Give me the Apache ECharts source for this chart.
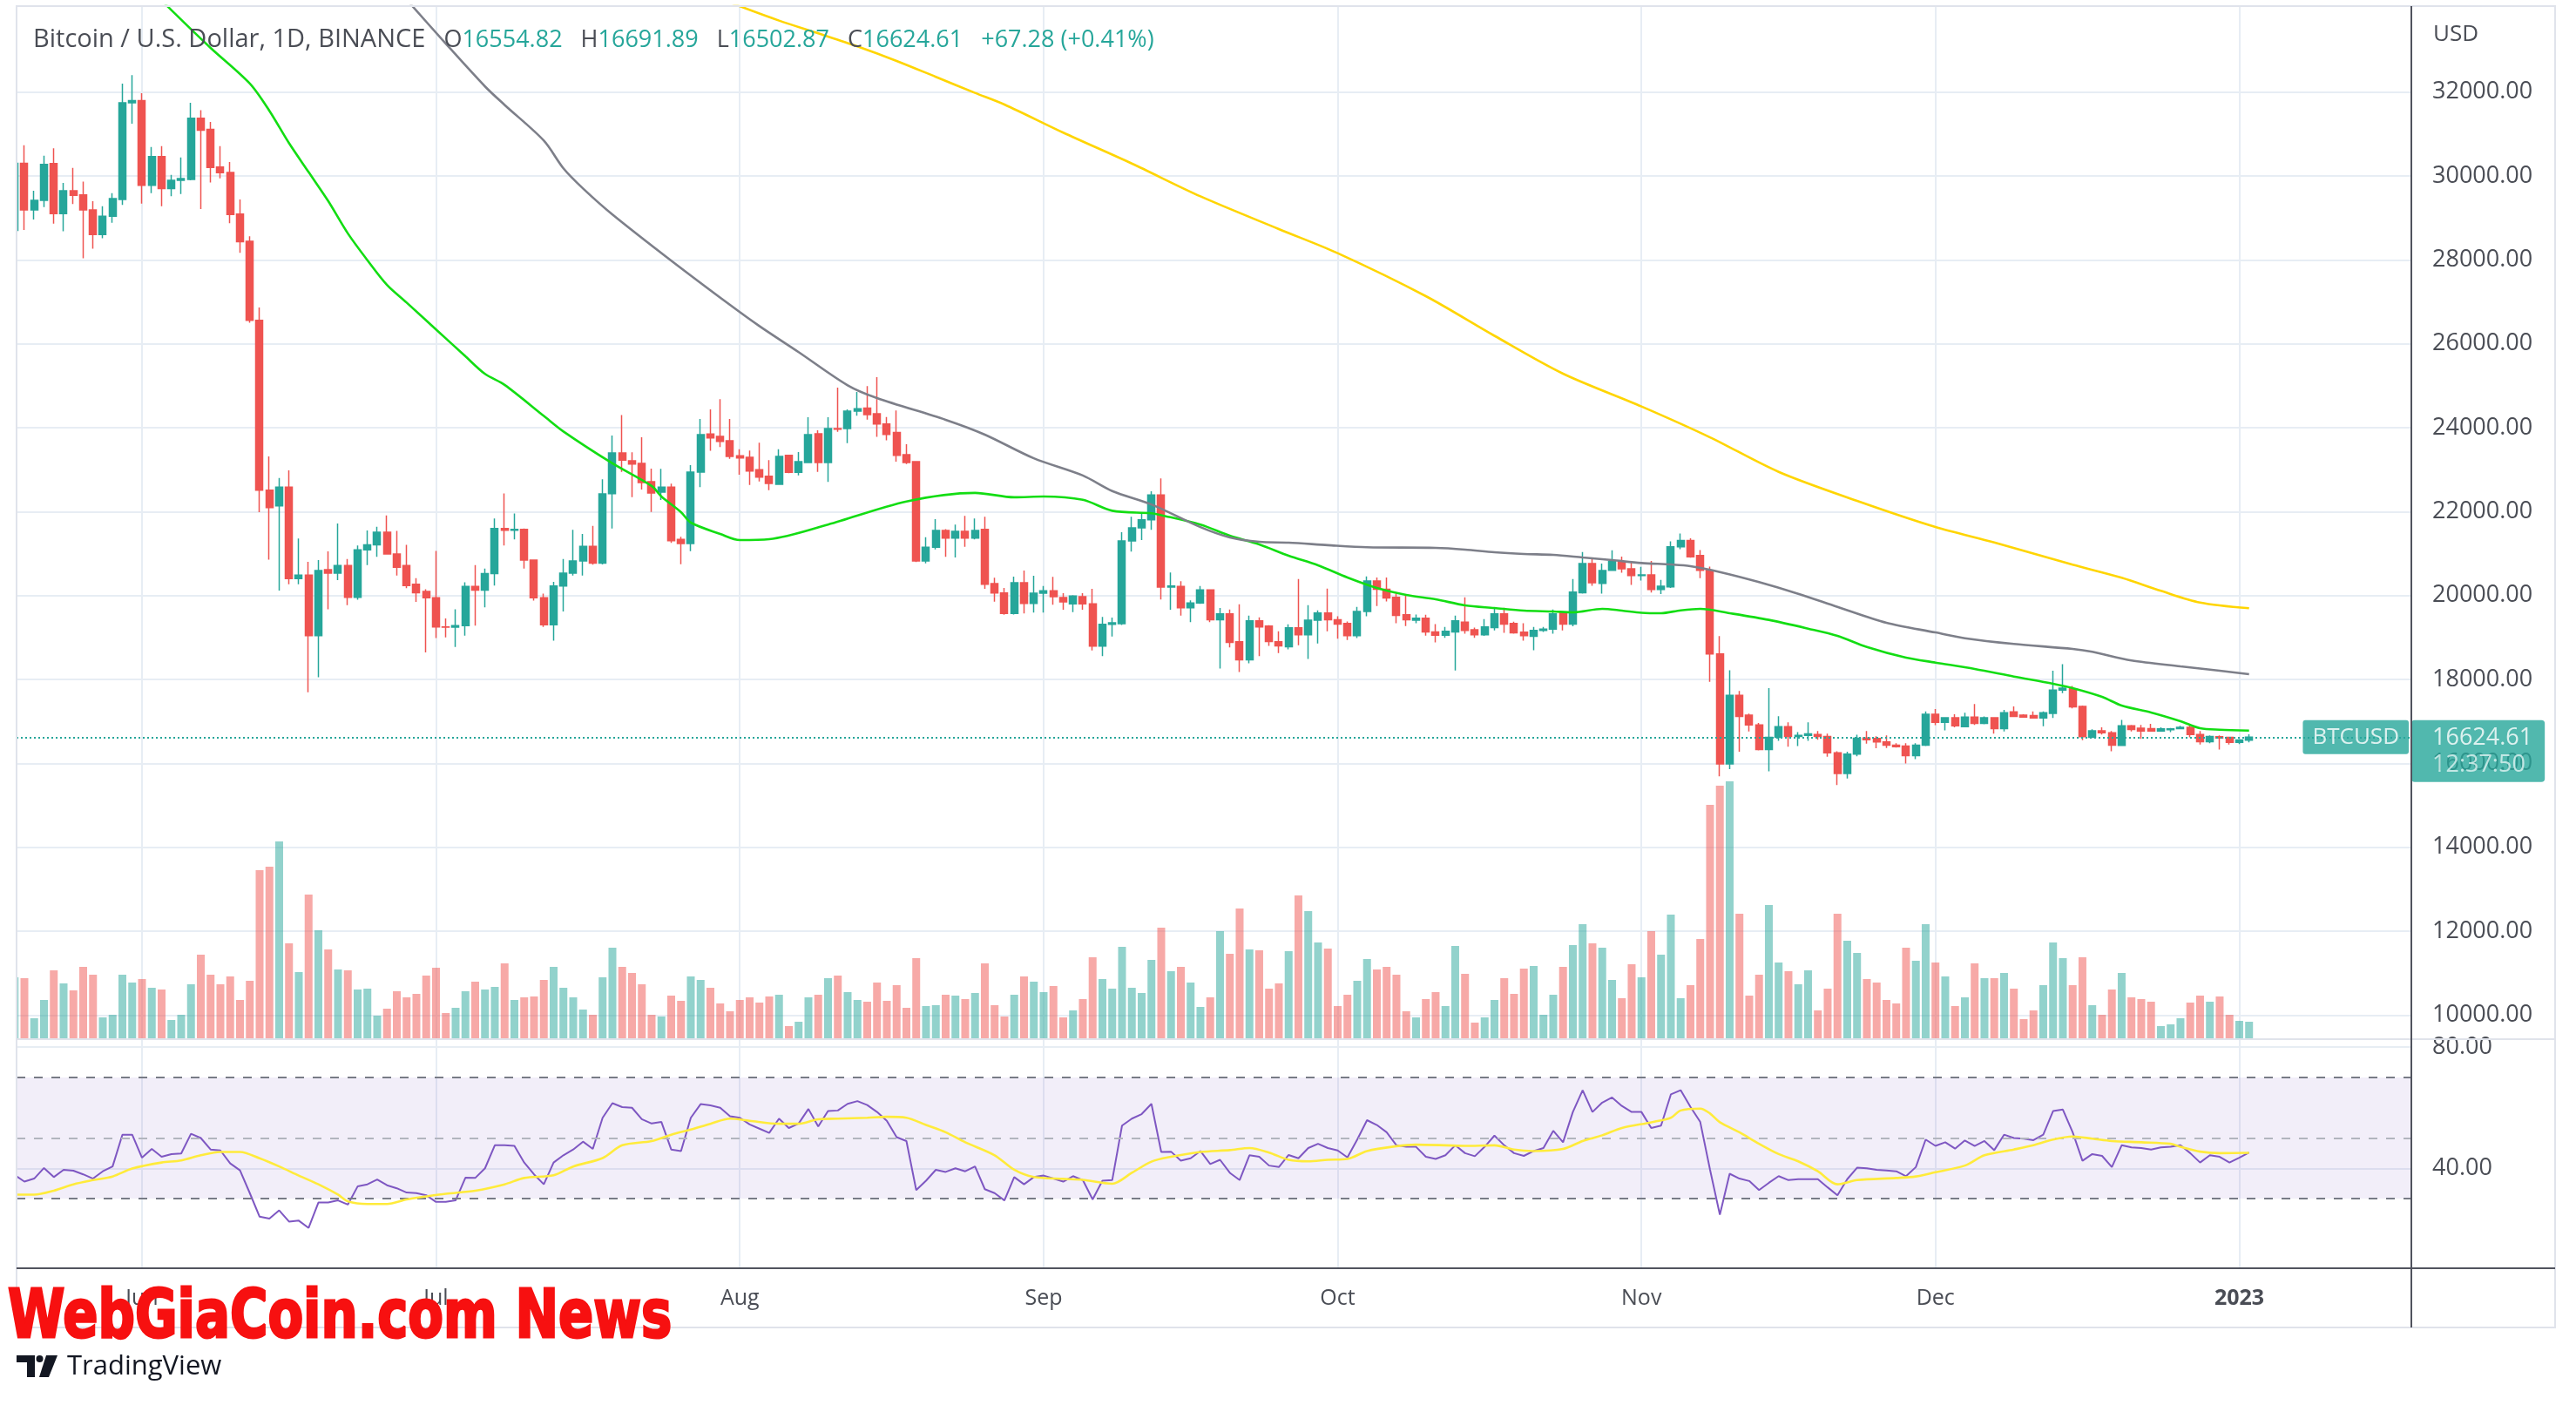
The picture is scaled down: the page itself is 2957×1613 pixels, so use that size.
<!DOCTYPE html>
<html>
<head>
<meta charset="utf-8">
<title>BTCUSD 1D</title>
<script src="https://cdn.jsdelivr.net/npm/echarts@6/dist/echarts.min.js"></script>
<style>
html,body{margin:0;padding:0;background:#fff;overflow:hidden}
#chart{width:2957px;height:1613px}
</style>
</head>
<body>
<div id="chart"></div>
<script>
// ================= DATA =================
const START_DATE = '2022-05-19';   // first daily candle; one candle per day

const OPEN = [
28700,30300,29188,29417,30291,29099,29645,29546,29188,28602,29039,29437,31742,
31791,29775,30460,29695,29894,29914,31374,31106,30212,30083,29089,28443,26556,22512,22135,22582,20406,20485,19045,20614,20535,20714,19959,21091,21210,21508,20992,20714,20267,20098,
19949,19254,19244,19284,20217,20128,20525,21598,21558,21578,20843,19949,19303,20227,20535,20823,21171,20773,22429,23398,23211,23149,22713,22464,22581,21336,21239,22941,23848,23793,23689,
23329,23294,22997,22844,22651,23343,22934,23170,23855,23170,23979,23979,24395,24464,24332,24090,23883,23357,23190,20824,21149,21550,21371,21530,21371,21578,20284,20063,19571,20305,19813,
20056,20111,19952,19800,19973,19800,18796,19315,19330,21301,21613,21806,22394,20201,20215,19710,19820,20132,19424,19562,18898,18468,19396,19272,18898,18780,19230,19064,19410,19583,
19424,19334,19043,19618,20345,20151,19957,19542,19410,19459,19133,19057,19133,19368,19182,19064,19237,19562,19334,19126,19029,19168,19202,19583,19320,20068,20760,20290,20601,20809,20636,
20477,20490,20145,20207,21159,21310,20952,20600,18607,15986,17621,17152,16917,16331,16621,16876,16641,16669,16690,16641,16255,15759,16221,16607,16593,16510,16434,16414,16186,16434,
17172,16979,17090,16876,17103,16952,17090,16828,17228,17152,17138,17083,17193,17745,17779,17359,16621,16779,16731,16428,16897,16841,16828,16772,16800,16828,16862,16690,16517,16634,16621,16503,16554.82
];
const HIGH = [
30550,30728,29645,30480,30659,29834,30192,29864,29397,29278,29586,32200,32400,
31970,30689,30709,30023,30440,31742,31563,31285,30709,30331,29437,28562,26864,23317,22800,22980,21360,20803,20843,21051,21717,20873,21190,21548,21637,21906,21538,21210,20416,20147,
21061,19454,19671,20316,20724,20644,21836,22433,21955,21598,20860,20048,20326,20873,21568,21469,21657,22771,23813,24298,23412,23772,23024,23018,22664,21400,23107,24208,24436,24678,24208,
23488,23453,23640,23225,23488,23357,23419,24249,23938,24249,24955,24436,24851,24990,25204,24256,24408,23606,23204,21391,21820,21580,21689,21896,21834,21876,20422,20180,20450,20596,20471,
20229,20443,20056,20007,20056,20159,19488,19474,21509,21876,21945,22485,22789,20547,20339,19883,20229,20146,19701,19666,19791,19521,19479,19292,19147,19313,20393,19770,19646,20165,
19507,19380,19729,20456,20428,20428,20047,20033,19549,19542,19320,19251,19521,19957,19237,19438,19687,19708,19375,19341,19251,19251,19666,19611,20393,21037,20878,20760,21079,20927,20823,
20684,20823,20372,21290,21476,21366,21083,20690,19034,18221,17724,17186,16966,17793,17124,16979,16745,16979,16772,16710,16290,16276,16683,16772,16648,16669,16483,16483,16483,17241,
17297,17103,17172,17207,17414,17117,17103,17276,17359,17172,17241,17241,18207,18366,17848,17379,16814,16862,16772,17034,16917,16917,16945,16862,16842,16897,16931,16772,16669,16669,16634,16580,16691.89
];
const LOW = [
28650,28711,28960,29258,28861,28682,29327,28036,28264,28513,28880,29308,31245,
29337,29586,29278,29516,29566,29894,29208,29844,29943,28870,28165,26500,21985,20853,20118,20267,20267,17694,18051,19671,20366,19770,19899,20724,20923,20972,20475,20177,19850,18647,
18985,19005,18776,19045,19284,19721,20237,21190,21340,20644,19880,19254,18925,19621,20475,20475,20734,20743,21599,22948,22346,22526,21993,22277,21253,20748,21059,22582,23447,23537,23260,
22879,22637,22720,22512,22637,22914,22865,23170,22948,22706,23903,23633,24284,24194,23779,23696,23190,23135,20796,20769,21101,20921,20907,21163,21336,20159,19855,19540,19550,19571,19592,
19592,19779,19661,19606,19661,18692,18554,19025,19300,21045,21322,21564,19904,19661,19523,19364,19800,19364,18260,18766,18177,18385,18558,18801,18627,18718,18815,18489,18856,19147,
18974,18939,18988,19507,19749,19860,19341,19271,19341,19043,18884,18994,18212,19092,18994,19040,19168,19112,19092,18925,18697,19133,19092,19168,19265,20047,20234,20047,20587,20546,20255,
20359,20069,20034,20179,21103,20900,20414,17945,15690,15862,16276,16759,16310,15814,16538,16400,16414,16538,16565,16159,15483,15641,16172,16469,16359,16366,16379,16000,16103,16414,
16910,16786,16862,16860,16917,16931,16710,16759,17103,17090,17069,16883,17083,17676,17310,16552,16607,16690,16290,16414,16759,16586,16759,16759,16745,16814,16621,16448,16483,16331,16448,16462,16502.87
];
const CLOSE = [
30300,29188,29417,30271,29099,29645,29536,29188,28602,29039,29457,31742,31791,
29775,30460,29695,29894,29934,31374,31086,30202,30073,29079,28433,26556,22512,22095,22582,20406,20485,19045,20594,20535,20714,19959,21091,21210,21508,20992,20674,20237,20068,19949,
19254,19244,19284,20217,20128,20525,21598,21558,21578,20843,19949,19303,20227,20535,20823,21171,20773,22423,23398,23225,23135,22692,22443,22581,21308,21239,22941,23834,23758,23675,23315,
23280,22969,22824,22671,23315,22934,23190,23834,23170,23979,23965,24395,24450,24312,24090,23841,23343,23170,20824,21149,21550,21371,21530,21371,21550,20270,20063,19571,20305,19813,20056,
20111,19973,19848,19987,19800,18796,19315,19350,21301,21613,21806,22394,20201,20229,19710,19820,20132,19424,19562,18884,18468,19396,19251,18905,18801,19230,19064,19410,19583,19424,
19320,19043,19618,20345,20151,19943,19528,19424,19459,19133,19057,19147,19396,19168,19064,19251,19562,19320,19112,19043,19168,19202,19562,19320,20082,20760,20303,20594,20809,20636,20477,
20490,20145,20221,21159,21310,20924,20600,18607,15986,17621,17117,16917,16331,16621,16876,16641,16669,16703,16641,16255,15759,16221,16600,16566,16510,16434,16400,16186,16434,17172,
16979,17090,16897,17103,16952,17090,16828,17207,17117,17103,17083,17207,17745,17793,17345,16634,16779,16731,16434,16897,16807,16772,16772,16821,16821,16862,16690,16517,16641,16607,16503,16557.33,16624.61
];
// daily volume, thousands of BTC
const VOLUME_K = [
70,69,23,44,78,63,55,82,73,24,27,73,64,68,58,56,21,27,62,96,73,62,71,44,66,193,197,226,109,76,
165,124,102,79,78,56,57,26,34,54,47,51,72,81,29,35,54,65,56,59,86,44,47,48,67,82,58,47,33,27,
70,104,82,75,62,27,25,49,43,71,67,58,40,31,44,47,41,48,50,14,19,47,50,69,72,53,44,42,64,43,
61,35,92,37,38,50,49,45,52,86,38,25,50,71,65,53,60,24,32,45,93,68,57,105,58,
52,90,127,77,82,64,36,47,123,97,149,102,101,57,63,100,164,146,110,103,37,50,66,91,79,82,73,31,24,45,
53,37,106,74,18,24,44,69,51,80,83,27,50,82,107,131,109,104,67,46,85,70,123,96,142,46,61,114,268,290,
295,143,49,73,153,87,77,62,78,32,57,143,112,98,68,64,44,40,104,89,131,87,71,37,47,86,69,69,75,57,
22,32,61,110,92,61,93,38,27,56,75,47,45,42,14,16,23,41,49,42,48,27,20,19
];
// RSI(14), one value per candle
const RSI = [
37.8,35.6,36.6,40.1,37.1,39.5,39.2,38.0,36.6,39.0,40.6,51.1,51.1,43.5,46.4,43.8,44.7,44.9,51.4,50.0,
46.2,45.9,41.6,39.3,31.8,24.0,23.4,26.1,22.4,22.7,20.3,28.7,28.7,29.4,28.0,34.0,34.7,36.3,34.4,33.4,
32.0,31.8,31.1,28.9,28.9,29.4,36.9,36.8,40.0,47.6,47.6,47.4,41.9,38.0,34.7,41.9,44.3,46.2,48.8,46.4,
56.7,61.5,60.2,60.0,56.2,54.8,55.3,46.2,45.7,56.7,61.2,60.8,60.0,57.2,56.7,54.5,53.1,51.7,56.4,53.3,
54.8,59.6,53.8,58.9,59.1,61.3,62.2,60.9,58.6,55.7,50.3,49.0,32.8,35.9,39.5,38.8,40.0,39.0,40.6,33.1,
31.8,29.4,37.1,34.7,37.1,37.6,36.6,35.6,37.4,36.1,29.7,35.9,36.1,54.1,56.4,57.9,61.3,45.4,45.5,42.5,
43.3,45.7,41.4,42.8,38.5,36.1,44.3,43.8,40.9,40.4,44.4,43.3,46.7,48.1,46.7,45.9,43.6,49.5,55.9,54.3,
51.9,47.6,47.1,47.1,43.8,43.1,44.3,47.6,45.0,44.0,47.1,50.8,47.6,45.0,44.1,45.7,46.7,52.4,48.6,58.6,
65.8,58.6,61.7,63.4,60.6,58.6,58.6,53.3,54.1,64.4,65.8,60.3,55.3,39.5,24.7,38.2,36.6,35.8,32.8,35.2,
37.4,36.1,36.4,36.4,36.4,33.7,31.1,36.4,40.2,40.0,39.5,39.3,39.0,37.4,40.4,49.5,47.4,48.6,46.5,49.2,
47.4,49.0,46.0,51.1,50.0,49.8,49.3,51.1,58.9,59.4,51.9,42.5,44.7,44.1,40.4,47.6,46.9,46.7,46.2,46.9,
47.1,47.6,45.0,41.9,44.3,43.8,41.9,43.5,45.2
];
// RSI moving average (yellow), read at sample dates
const RSI_MA = [
['2022-05-19',31.3],['2022-05-21',31.3],['2022-05-23',32.6],['2022-05-25',34.7],['2022-05-27',36.1],['2022-05-29',37.3],['2022-05-31',39.9],
['2022-06-03',41.9],['2022-06-05',42.6],['2022-06-07',44.3],['2022-06-09',45.4],['2022-06-11',45.4],['2022-06-13',43.3],['2022-06-15',40.6],
['2022-06-17',37.6],['2022-06-19',34.7],['2022-06-21',31.3],['2022-06-22',29.1],['2022-06-24',28.2],['2022-06-26',28.2],['2022-06-28',29.7],
['2022-06-30',30.7],['2022-07-02',31.6],['2022-07-05',32.6],['2022-07-08',34.7],['2022-07-10',36.8],['2022-07-13',37.7],['2022-07-15',40.6],
['2022-07-18',43.4],['2022-07-20',47.6],['2022-07-23',49.0],['2022-07-25',51.1],['2022-07-27',52.8],['2022-07-29',54.7],['2022-07-31',56.4],
['2022-08-02',55.7],['2022-08-05',54.7],['2022-08-07',54.7],['2022-08-09',56.2],['2022-08-11',56.4],['2022-08-14',56.7],['2022-08-16',57.0],
['2022-08-18',56.7],['2022-08-20',54.3],['2022-08-22',51.9],['2022-08-24',48.6],['2022-08-27',44.3],['2022-08-29',39.5],['2022-08-31',37.1],
['2022-09-03',36.5],['2022-09-05',36.2],['2022-09-08',34.9],['2022-09-10',38.5],['2022-09-12',42.2],['2022-09-14',43.8],['2022-09-17',45.4],
['2022-09-20',46.0],['2022-09-22',46.7],['2022-09-24',45.2],['2022-09-26',42.8],['2022-09-28',42.3],['2022-09-30',42.8],['2022-10-02',43.1],
['2022-10-04',45.7],['2022-10-07',47.3],['2022-10-09',47.8],['2022-10-12',47.6],['2022-10-14',47.4],['2022-10-17',47.6],['2022-10-19',46.2],
['2022-10-21',45.7],['2022-10-24',46.4],['2022-10-26',49.0],['2022-10-28',50.9],['2022-10-30',53.3],['2022-11-02',55.2],['2022-11-04',56.7],
['2022-11-05',59.1],['2022-11-07',59.7],['2022-11-08',58.1],['2022-11-09',55.2],['2022-11-11',51.9],['2022-11-13',48.1],['2022-11-15',44.7],
['2022-11-17',42.3],['2022-11-19',39.0],['2022-11-21',34.7],['2022-11-23',36.1],['2022-11-27',36.8],['2022-11-29',37.3],['2022-12-01',38.7],
['2022-12-04',40.9],['2022-12-06',44.3],['2022-12-09',46.2],['2022-12-11',47.6],['2022-12-13',49.5],['2022-12-15',50.5],['2022-12-17',49.8],
['2022-12-19',49.0],['2022-12-22',48.6],['2022-12-25',48.1],['2022-12-26',47.1],['2022-12-28',45.5],['2022-12-30',45.0],['2023-01-02',45.1]
];
// price moving averages read at sample dates (green 50, gray 100, yellow 200)
const MA50 = [
['2022-06-01',34650],['2022-06-04',33950],['2022-06-08',33050],['2022-06-12',32200],['2022-06-14',31550],['2022-06-16',30780],['2022-06-18',30090],
['2022-06-20',29400],['2022-06-22',28630],['2022-06-24',27990],['2022-06-26',27400],['2022-06-28',26980],['2022-07-01',26340],['2022-07-04',25700],
['2022-07-06',25280],['2022-07-08',25020],['2022-07-12',24280],['2022-07-14',23910],['2022-07-19',23150],['2022-07-23',22610],['2022-07-24',22360],
['2022-07-26',21986],['2022-07-27',21737],['2022-07-30',21467],['2022-08-01',21322],['2022-08-04',21342],['2022-08-10',21690],['2022-08-18',22240],
['2022-08-25',22446],['2022-08-29',22341],['2022-09-01',22360],['2022-09-05',22280],['2022-09-08',22020],['2022-09-12',21960],['2022-09-13',21915],
['2022-09-17',21690],['2022-09-20',21425],['2022-09-23',21218],['2022-09-26',20948],['2022-09-29',20720],['2022-10-02',20430],['2022-10-05',20180],
['2022-10-08',20015],['2022-10-11',19911],['2022-10-14',19766],['2022-10-17',19703],['2022-10-20',19641],['2022-10-23',19620],['2022-10-25',19600],
['2022-10-28',19683],['2022-10-30',19641],['2022-11-01',19590],['2022-11-03',19579],['2022-11-05',19647],['2022-11-07',19683],['2022-11-10',19579],
['2022-11-14',19420],['2022-11-18',19212],['2022-11-21',19039],['2022-11-24',18775],['2022-11-28',18520],['2022-12-01',18402],['2022-12-05',18250],
['2022-12-09',18070],['2022-12-13',17897],['2022-12-15',17794],['2022-12-18',17586],['2022-12-20',17379],['2022-12-23',17213],['2022-12-26',17005],
['2022-12-28',16839],['2022-12-30',16804],['2023-01-02',16783]
];
const MA100 = [
['2022-06-28',34200],['2022-07-02',33150],['2022-07-06',32130],['2022-07-08',31690],['2022-07-12',30840],['2022-07-14',30180],['2022-07-16',29700],
['2022-07-19',29080],['2022-07-25',27980],['2022-07-31',26925],['2022-08-03',26420],['2022-08-07',25800],['2022-08-12',25010],['2022-08-15',24705],
['2022-08-22',24187],['2022-08-26',23834],['2022-08-31',23270],['2022-09-05',22860],['2022-09-08',22490],['2022-09-12',22170],['2022-09-17',21630],
['2022-09-20',21385],['2022-09-23',21280],['2022-09-26',21260],['2022-09-30',21200],['2022-10-04',21150],['2022-10-11',21135],['2022-10-14',21095],
['2022-10-17',21030],['2022-10-20',20990],['2022-10-23',20968],['2022-10-26',20906],['2022-10-29',20844],['2022-11-01',20775],['2022-11-04',20740],
['2022-11-06',20700],['2022-11-09',20560],['2022-11-13',20320],['2022-11-17',20042],['2022-11-21',19730],['2022-11-26',19350],['2022-12-01',19120],
['2022-12-04',18983],['2022-12-09',18846],['2022-12-15',18727],['2022-12-17',18659],['2022-12-21',18452],['2022-12-26',18313],['2022-12-30',18209],
['2023-01-02',18126]
];
const MA200 = [
['2022-07-31',34130],['2022-08-05',33700],['2022-08-09',33396],['2022-08-13',33085],['2022-08-17',32739],['2022-08-21',32359],['2022-08-25',31978],
['2022-08-28',31700],['2022-09-03',31030],['2022-09-10',30293],['2022-09-17',29512],['2022-09-25',28733],['2022-10-01',28159],['2022-10-10',27134],
['2022-10-17',26189],['2022-10-24',25286],['2022-11-01',24506],['2022-11-08',23770],['2022-11-15',22947],['2022-11-23',22256],['2022-12-01',21633],
['2022-12-07',21266],['2022-12-15',20735],['2022-12-20',20424],['2022-12-24',20112],['2022-12-28',19834],['2023-01-02',19697]
];
// axis ticks / labels
const PRICE_TICKS = [10000,12000,14000,16000,18000,20000,22000,24000,26000,28000,30000,32000];
const RSI_TICKS = [40, 80];
const RSI_LEVELS = [70, 50, 30];
const MONTH_TICKS = ['2022-06-01','2022-07-01','2022-08-01','2022-09-01','2022-10-01','2022-11-01','2022-12-01','2023-01-01'];
const MONTH_LABELS = ['Jun','Jul','Aug','Sep','Oct','Nov','Dec','2023'];
const SYMBOL_TITLE = 'Bitcoin / U.S. Dollar, 1D, BINANCE';
const TICKER = 'BTCUSD';
const COUNTDOWN = '12:37:50';
const CURRENCY = 'USD';

// ================= helpers =================
const DAY_MS = 86400000;
function toDay(s){ const p = s.split('-').map(Number); return Date.UTC(p[0], p[1]-1, p[2]) / DAY_MS; }
const startDay = toDay(START_DATE);
const lastIdx = CLOSE.length - 1;
const LAST_PRICE = CLOSE[lastIdx];

// visible window (time scale of the reference: ~11.25 px per day)
const X_MIN = startDay + 0.2;
const X_MAX = X_MIN + 244.27;

const UP = '#26a69a', DOWN = '#ef5350';
const VOL_UP = 'rgba(38,166,154,0.5)', VOL_DOWN = 'rgba(239,83,80,0.5)';
const GRID_COLOR = '#e7edf4';
const AXIS_TEXT = '#4a4d55';
const DARK = '#50535e';
const FRAME = '#e0e3eb';
const FONT = '"Open Sans", Roboto, sans-serif';

const candleData = OPEN.map((o, i) => [startDay + i, o, CLOSE[i], LOW[i], HIGH[i]]);
const volData = VOLUME_K.map((v, i) => ({ value: [startDay + i, v], itemStyle: { color: CLOSE[i] >= OPEN[i] ? VOL_UP : VOL_DOWN } }));
const rsiData = RSI.map((v, i) => [startDay + i, v]);
const pts = arr => arr.map(p => [toDay(p[0]), p[1]]);
const monthDays = MONTH_TICKS.map(toDay);
function monthLabel(v){
  const k = monthDays.findIndex(d => Math.abs(d - v) < 0.01);
  if (k < 0) return '';
  const s = MONTH_LABELS[k];
  return /^\d{4}$/.test(s) ? '{y|' + s + '}' : s;
}

// header values from the last candle
const prevClose = CLOSE[lastIdx - 1];
const chg = LAST_PRICE - prevClose;
const chgPct = chg / prevClose * 100;
const sign = chg >= 0 ? '+' : '-';
const headerText =
  '{t|' + SYMBOL_TITLE + '}   ' +
  '{k|O}{v|' + OPEN[lastIdx].toFixed(2) + '}   ' +
  '{k|H}{v|' + HIGH[lastIdx].toFixed(2) + '}   ' +
  '{k|L}{v|' + LOW[lastIdx].toFixed(2) + '}   ' +
  '{k|C}{v|' + LAST_PRICE.toFixed(2) + '}   ' +
  '{v|' + sign + Math.abs(chg).toFixed(2) + ' (' + sign + Math.abs(chgPct).toFixed(2) + '%)}';

const chart = echarts.init(document.getElementById('chart'), null, { renderer: 'canvas' });

const lineSeries = (name, data, color) => ({
  type: 'line', name, xAxisIndex: 0, yAxisIndex: 0, data: pts(data),
  showSymbol: false, smooth: 0.3, clip: true, z: 5, silent: true,
  lineStyle: { color, width: 2.6 }
});

const option = {
  animation: false,
  backgroundColor: '#ffffff',
  textStyle: { fontFamily: FONT },
  grid: [
    { left: 19, top: 7, width: 2748, height: 1185 },
    { left: 19, top: 1193, width: 2748, height: 263 }
  ],
  xAxis: [
    { type: 'value', gridIndex: 0, min: X_MIN, max: X_MAX,
      axisLine: { show: false }, axisTick: { show: false, customValues: monthDays },
      axisLabel: { show: false }, splitLine: { show: true, lineStyle: { color: GRID_COLOR, width: 2 } } },
    { type: 'value', gridIndex: 1, min: X_MIN, max: X_MAX,
      axisLine: { show: false }, axisTick: { show: false, customValues: monthDays },
      axisLabel: { show: true, customValues: monthDays, formatter: monthLabel, margin: 22,
        color: AXIS_TEXT, fontSize: 25, fontFamily: FONT,
        rich: { y: { fontWeight: 'bold', fontSize: 25, color: AXIS_TEXT, fontFamily: FONT } } },
      splitLine: { show: true, lineStyle: { color: GRID_COLOR, width: 2 } } }
  ],
  yAxis: [
    { type: 'value', gridIndex: 0, position: 'right', min: 9450, max: 34045,
      axisLine: { show: false }, axisTick: { show: false, customValues: PRICE_TICKS },
      axisLabel: { customValues: PRICE_TICKS, formatter: v => v.toFixed(2), margin: 25,
        color: AXIS_TEXT, fontSize: 27, fontFamily: FONT },
      splitLine: { show: true, lineStyle: { color: GRID_COLOR, width: 2 } } },
    { type: 'value', gridIndex: 0, min: 0, max: 1185, show: false },
    { type: 'value', gridIndex: 1, position: 'right', min: 6.98, max: 82.66,
      axisLine: { show: false }, axisTick: { show: false, customValues: RSI_TICKS },
      axisLabel: { customValues: RSI_TICKS, formatter: v => v.toFixed(2), margin: 25,
        color: AXIS_TEXT, fontSize: 27, fontFamily: FONT },
      splitLine: { show: true, lineStyle: { color: GRID_COLOR, width: 2 } } }
  ],
  series: [
    { type: 'bar', name: 'Volume', xAxisIndex: 0, yAxisIndex: 1, barWidth: 9, data: volData, z: 1, silent: true, clip: true },
    { type: 'candlestick', name: 'BTCUSD', xAxisIndex: 0, yAxisIndex: 0, barWidth: 8.5, clip: true,
      dimensions: ['date', 'open', 'close', 'lowest', 'highest'],
      encode: { x: 'date', y: ['open', 'close', 'lowest', 'highest'] },
      data: candleData, z: 3, silent: true,
      itemStyle: { color: UP, color0: DOWN, borderColor: UP, borderColor0: DOWN, borderWidth: 1.5 },
      markLine: { silent: true, symbol: ['none', 'none'], label: { show: false },
        lineStyle: { color: UP, type: [2, 3], width: 2 }, data: [{ yAxis: LAST_PRICE }] } },
    lineSeries('MA50', MA50, '#13dd13'),
    lineSeries('MA100', MA100, '#7d7f89'),
    lineSeries('MA200', MA200, '#ffd500'),
    { type: 'line', name: 'RSI', xAxisIndex: 1, yAxisIndex: 2, data: rsiData, showSymbol: false, silent: true, z: 4,
      lineStyle: { color: '#7e57c2', width: 2 },
      markArea: { silent: true, itemStyle: { color: 'rgba(126,87,194,0.1)' }, data: [[{ yAxis: RSI_LEVELS[2] }, { yAxis: RSI_LEVELS[0] }]] },
      markLine: { silent: true, symbol: ['none', 'none'], label: { show: false },
        lineStyle: { type: [10, 10], width: 2 },
        data: [
          { yAxis: RSI_LEVELS[0], lineStyle: { color: '#787b86' } },
          { yAxis: RSI_LEVELS[1], lineStyle: { color: '#b2b5be' } },
          { yAxis: RSI_LEVELS[2], lineStyle: { color: '#787b86' } }
        ] } },
    { type: 'line', name: 'RSI MA', xAxisIndex: 1, yAxisIndex: 2, data: pts(RSI_MA), showSymbol: false, smooth: 0.3, silent: true, z: 5,
      lineStyle: { color: '#ffeb3b', width: 2.6 } },
    { type: 'scatter', name: 'last', xAxisIndex: 0, yAxisIndex: 0, clip: false, silent: true, z: 20,
      symbolSize: 0.01, itemStyle: { color: 'rgba(0,0,0,0)' },
      data: [
        { value: [X_MAX, LAST_PRICE], label: { show: true, position: 'left', distance: 2, formatter: TICKER,
            backgroundColor: UP, color: '#ffffff', fontSize: 26, lineHeight: 26, fontFamily: FONT,
            padding: [7, 11, 6, 11], borderRadius: 3 } },
        { value: [X_MAX, LAST_PRICE], label: { show: true, position: 'right', distance: 1, offset: [0, 16],
            formatter: '{a|' + LAST_PRICE.toFixed(2) + '}\n{b|' + COUNTDOWN + '}',
            backgroundColor: UP, padding: [5, 14, 4, 24], borderRadius: 4,
            rich: { a: { color: '#ffffff', fontSize: 27, lineHeight: 31, fontFamily: FONT },
                    b: { color: '#dff3f1', fontSize: 27, lineHeight: 31, fontFamily: FONT } } } }
      ] }
  ],
  graphic: [
    // white margin left of the plot (hides the part of the first candle that lies before the visible window)
    { type: 'rect', silent: true, z: 49, shape: { x: 0, y: 0, width: 18, height: 1460 }, style: { fill: '#ffffff' } },
    // frame & pane separators
    { type: 'rect', silent: true, z: 50, shape: { x: 19, y: 7, width: 2914, height: 1517 }, style: { fill: 'none', stroke: FRAME, lineWidth: 2 } },
    { type: 'line', silent: true, z: 50, shape: { x1: 19, y1: 1193, x2: 2933, y2: 1193 }, style: { stroke: FRAME, lineWidth: 2 } },
    { type: 'line', silent: true, z: 51, shape: { x1: 2768, y1: 7, x2: 2768, y2: 1524 }, style: { stroke: DARK, lineWidth: 2 } },
    { type: 'line', silent: true, z: 51, shape: { x1: 19, y1: 1456, x2: 2933, y2: 1456 }, style: { stroke: DARK, lineWidth: 2 } },
    // currency label
    { type: 'text', silent: true, z: 52, x: 2793, y: 40,
      style: { text: CURRENCY, fill: AXIS_TEXT, fontSize: 26, fontFamily: FONT, verticalAlign: 'middle' } },
    // header
    { type: 'text', silent: true, z: 60, x: 38, y: 46,
      style: { text: headerText, fontSize: 27, fontFamily: FONT, fill: AXIS_TEXT, verticalAlign: 'middle',
        rich: { t: { fill: '#4a4d55', fontSize: 29, fontFamily: FONT },
                k: { fill: '#4a4d55', fontSize: 27, fontFamily: FONT },
                v: { fill: UP, fontSize: 27, fontFamily: FONT } } } },
    // watermark
    { type: 'text', silent: true, z: 70, x: 9, y: 1515, scaleX: 0.78,
      style: { text: 'WebGiaCoin.com News', fill: '#f71010', stroke: '#f71010', lineWidth: 3,
        fontSize: 76, fontWeight: 'bold', fontFamily: '"DejaVu Sans", sans-serif', verticalAlign: 'middle' } },
    // TradingView logo
    { type: 'group', silent: true, z: 70, children: [
      { type: 'rect', shape: { x: 19, y: 1556, width: 21, height: 8 }, style: { fill: '#131722' } },
      { type: 'rect', shape: { x: 31, y: 1556, width: 9, height: 25 }, style: { fill: '#131722' } },
      { type: 'circle', shape: { cx: 45.5, cy: 1560, r: 4 }, style: { fill: '#131722' } },
      { type: 'polygon', shape: { points: [[53, 1556], [66, 1556], [56, 1581], [45, 1581]] }, style: { fill: '#131722' } },
      { type: 'text', x: 77, y: 1569, style: { text: 'TradingView', fill: '#131722', fontSize: 31, fontFamily: FONT, verticalAlign: 'middle' } }
    ] }
  ]
};
chart.setOption(option);
</script>
</body>
</html>
